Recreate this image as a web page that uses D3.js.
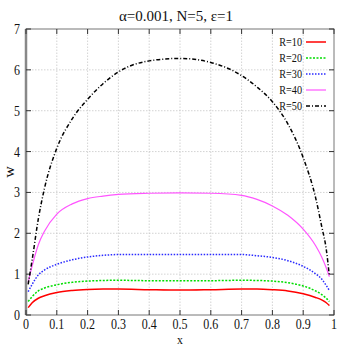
<html>
<head>
    <script src="https://d3js.org/d3.v7.min.js"></script>
    <style>
        body { margin: 0; background: #fff; }
        text { font-family: "Liberation Serif", "DejaVu Serif", serif; fill: #111; }
        .grid line { stroke: #c8c8c8; stroke-width: 0.8px; stroke-dasharray: 1.5,1.5; }
        .tick-mark { stroke: #333; stroke-width: 1px; }
    </style>
</head>
<body>
    <svg id="chart" width="346" height="346"></svg>

    <script>
        // x positions where the curves were read
        const xVals = [0.007, 0.02, 0.04, 0.06, 0.1, 0.15, 0.2, 0.25, 0.3, 0.4, 0.5, 0.6, 0.7, 0.75, 0.8, 0.85, 0.9, 0.94, 0.96, 0.975, 0.985];

        const r10 = [0.18, 0.30, 0.41, 0.47, 0.55, 0.60, 0.625, 0.635, 0.635, 0.62, 0.61, 0.62, 0.635, 0.635, 0.62, 0.59, 0.52, 0.43, 0.37, 0.30, 0.23];
        const r20 = [0.33, 0.45, 0.59, 0.66, 0.74, 0.80, 0.83, 0.845, 0.85, 0.84, 0.84, 0.84, 0.85, 0.845, 0.83, 0.79, 0.71, 0.59, 0.50, 0.41, 0.33];
        const r30 = [0.57, 0.75, 0.98, 1.10, 1.24, 1.35, 1.42, 1.46, 1.48, 1.48, 1.48, 1.48, 1.48, 1.45, 1.41, 1.33, 1.19, 1.01, 0.88, 0.72, 0.60];
        const r40 = [0.80, 1.20, 1.72, 2.05, 2.47, 2.72, 2.85, 2.91, 2.95, 2.98, 2.99, 2.98, 2.93, 2.83, 2.67, 2.44, 2.10, 1.70, 1.42, 1.15, 0.94];
        const r50 = [0.75, 1.35, 2.35, 3.10, 4.08, 4.80, 5.28, 5.66, 5.95, 6.22, 6.28, 6.18, 5.86, 5.58, 5.22, 4.68, 3.85, 2.88, 2.17, 1.60, 0.95];

        const seriesNames = ["R=10", "R=20", "R=30", "R=40", "R=50"];
        const seriesData = [r10, r20, r30, r40, r50];

        const xTicks = [0, 0.1, 0.2, 0.3, 0.4, 0.5, 0.6, 0.7, 0.8, 0.9, 1];
        const yTicks = [0, 1, 2, 3, 4, 5, 6, 7];

        const colors = ["#ff0000", "#00dd00", "#2a2aff", "#ff55ff", "#000000"];
        const dashes = ["none", "2,1.5", "1.5,1.5", "none", "4,2,1,2"];

        const svg = d3.select("#chart");
        const x = d3.scaleLinear().domain([0, 1]).range([26, 334]);
        const y = d3.scaleLinear().domain([0, 7]).range([315, 29]);

        // gridlines
        const grid = svg.append("g").attr("class", "grid");
        grid.selectAll("line.gx").data(xTicks.slice(1, -1))
            .join("line").attr("class", "gx")
            .attr("x1", d => x(d)).attr("x2", d => x(d))
            .attr("y1", y(0)).attr("y2", y(7));
        grid.selectAll("line.gy").data(yTicks.slice(1, -1))
            .join("line").attr("class", "gy")
            .attr("x1", x(0)).attr("x2", x(1))
            .attr("y1", d => y(d)).attr("y2", d => y(d));

        // frame
        svg.append("rect")
            .attr("x", x(0)).attr("y", y(7))
            .attr("width", x(1) - x(0)).attr("height", y(0) - y(7))
            .attr("fill", "none").attr("stroke", "#777").attr("stroke-width", 1);
        svg.append("line")
            .attr("x1", x(0)).attr("x2", x(0)).attr("y1", y(0)).attr("y2", y(7))
            .attr("stroke", "#888").attr("stroke-width", 2.5);

        // inward ticks on all four sides
        const tk = 5;
        const ticks = svg.append("g");
        xTicks.forEach(t => {
            ticks.append("line").attr("class", "tick-mark")
                .attr("x1", x(t)).attr("x2", x(t)).attr("y1", y(0)).attr("y2", y(0) - tk);
            ticks.append("line").attr("class", "tick-mark")
                .attr("x1", x(t)).attr("x2", x(t)).attr("y1", y(7)).attr("y2", y(7) + tk);
        });
        yTicks.forEach(t => {
            ticks.append("line").attr("class", "tick-mark")
                .attr("x1", x(0)).attr("x2", x(0) + tk).attr("y1", y(t)).attr("y2", y(t));
            ticks.append("line").attr("class", "tick-mark")
                .attr("x1", x(1)).attr("x2", x(1) - tk).attr("y1", y(t)).attr("y2", y(t));
        });

        // tick labels (font is narrow in the original)
        svg.append("g").selectAll("text").data(xTicks)
            .join("text")
            .attr("transform", d => `translate(${x(d)},329) scale(0.8,1)`)
            .attr("text-anchor", "middle")
            .style("font-size", "15px")
            .text(d => d3.format("")(d));
        svg.append("g").selectAll("text").data(yTicks)
            .join("text")
            .attr("transform", d => `translate(20,${y(d) + 5}) scale(0.8,1)`)
            .attr("text-anchor", "end")
            .style("font-size", "15px")
            .text(d => d);

        // axis titles
        svg.append("text")
            .attr("transform", "translate(180,344) scale(0.9,1)")
            .attr("text-anchor", "middle")
            .style("font-size", "13px")
            .text("x");
        svg.append("text")
            .attr("transform", `translate(14,${(y(0) + y(7)) / 2}) rotate(-90) scale(1,0.9)`)
            .attr("text-anchor", "middle")
            .style("font-size", "16px")
            .text("w");

        svg.append("text")
            .attr("x", 176).attr("y", 21)
            .attr("text-anchor", "middle")
            .style("font-size", "15px")
            .text("α=0.001, N=5, ε=1");

        // curves
        const line = d3.line()
            .x((d, i) => x(xVals[i]))
            .y(d => y(d))
            .curve(d3.curveMonotoneX);

        svg.append("g").selectAll("path").data(seriesData)
            .join("path")
            .attr("d", d => line(d))
            .attr("fill", "none")
            .attr("stroke", (d, i) => colors[i])
            .attr("stroke-width", (d, i) => i === 3 ? 1.2 : 1.5)
            .attr("stroke-dasharray", (d, i) => dashes[i]);

        // legend
        const legend = svg.append("g").selectAll("g").data(seriesNames)
            .join("g")
            .attr("transform", (d, i) => `translate(0,${42 + i * 16})`);
        legend.append("text")
            .attr("transform", "translate(302,4) scale(0.85,1)")
            .attr("text-anchor", "end")
            .style("font-size", "12px")
            .text(d => d);
        legend.append("line")
            .attr("x1", 306).attr("x2", 326)
            .attr("stroke", (d, i) => colors[i])
            .attr("stroke-width", (d, i) => i === 3 ? 1.2 : 1.5)
            .attr("stroke-dasharray", (d, i) => dashes[i]);
    </script>
</body>
</html>
